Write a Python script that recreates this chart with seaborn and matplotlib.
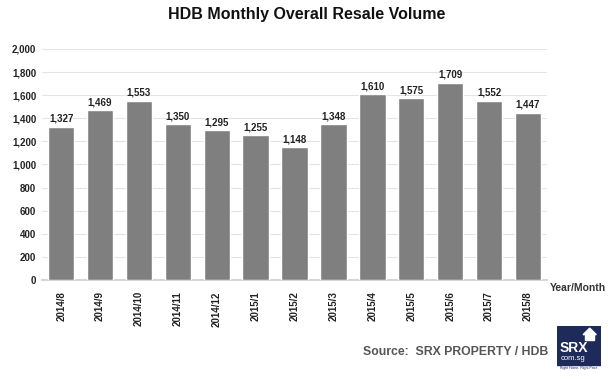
import matplotlib
matplotlib.use("Agg")
import matplotlib.pyplot as plt
import seaborn as sns
import pandas as pd
from matplotlib.patches import Rectangle, Polygon

months = ["2014/8", "2014/9", "2014/10", "2014/11", "2014/12", "2015/1", "2015/2",
          "2015/3", "2015/4", "2015/5", "2015/6", "2015/7", "2015/8"]
volumes = [1327, 1469, 1553, 1350, 1295, 1255, 1148, 1348, 1610, 1575, 1709, 1552, 1447]
yticks = list(range(0, 2001, 200))

sns.set_theme(style="white")
plt.rcParams['font.family'] = ['Liberation Sans', 'DejaVu Sans']

df = pd.DataFrame({"month": months, "volume": volumes})

fig = plt.figure(figsize=(6.13, 3.79), dpi=100)
ax = fig.add_axes([0.068, 0.261, 0.825, 0.61])
sns.barplot(data=df, x="month", y="volume", color="#7f7f7f", saturation=1,
            width=0.68, ax=ax, zorder=3)

for i, v in enumerate(volumes):
    ax.text(i, v + 25, f"{v:,}", ha="center", va="bottom", fontsize=7,
            fontweight="bold", color="#222222")

ax.set_ylim(0, 2000)
ax.set_yticks(yticks)
ax.set_yticklabels([f"{t:,}" for t in yticks], fontsize=7, fontweight="bold", color="#222222")
ax.set_xticks(range(len(months)))
ax.set_xticklabels(months, rotation=90, fontsize=7, fontweight="bold", color="#222222")
ax.set_xlim(-0.5, len(months) - 0.5)
ax.set_xlabel("")
ax.set_ylabel("")
ax.yaxis.grid(True, color="#e4e4e4", linewidth=0.8, zorder=0)
for s in ["top", "right", "left"]:
    ax.spines[s].set_visible(False)
ax.spines["bottom"].set_color("#d0d0d0")
ax.tick_params(axis="y", length=0, pad=4)
ax.tick_params(axis="x", length=0, pad=8)

fig.text(0.5, 0.962, "HDB Monthly Overall Resale Volume", ha="center", va="center",
         fontsize=11.5, fontweight="bold", color="#111111")
fig.text(0.942, 0.24, "Year/Month", ha="center", va="center", fontsize=7.5,
         fontweight="bold", color="#333333")
fig.text(0.895, 0.072, "Source:  SRX PROPERTY / HDB", ha="right", va="center",
         fontsize=8.8, fontweight="bold", color="#555555")

# logo
logo = fig.add_axes([0.908, 0.025, 0.072, 0.115])
logo.set_xlim(0, 1)
logo.set_ylim(0, 1)
logo.axis("off")
logo.add_patch(Rectangle((0, 0.1), 1, 0.9, color="#1e2a5a"))
logo.add_patch(Polygon([[0.6, 0.8], [0.75, 0.95], [0.9, 0.8]], color="white"))
logo.add_patch(Rectangle((0.65, 0.68), 0.2, 0.13, color="white"))
logo.text(0.06, 0.5, "SRX", color="white", fontsize=10, fontweight="bold", va="center")
logo.text(0.08, 0.26, "com.sg", color="white", fontsize=5.5, va="center")
logo.text(0.5, 0.03, "Right Home. Right Price", color="#1e2a5a", fontsize=2.5, ha="center", va="center")

fig.savefig("out.png", dpi=100)
